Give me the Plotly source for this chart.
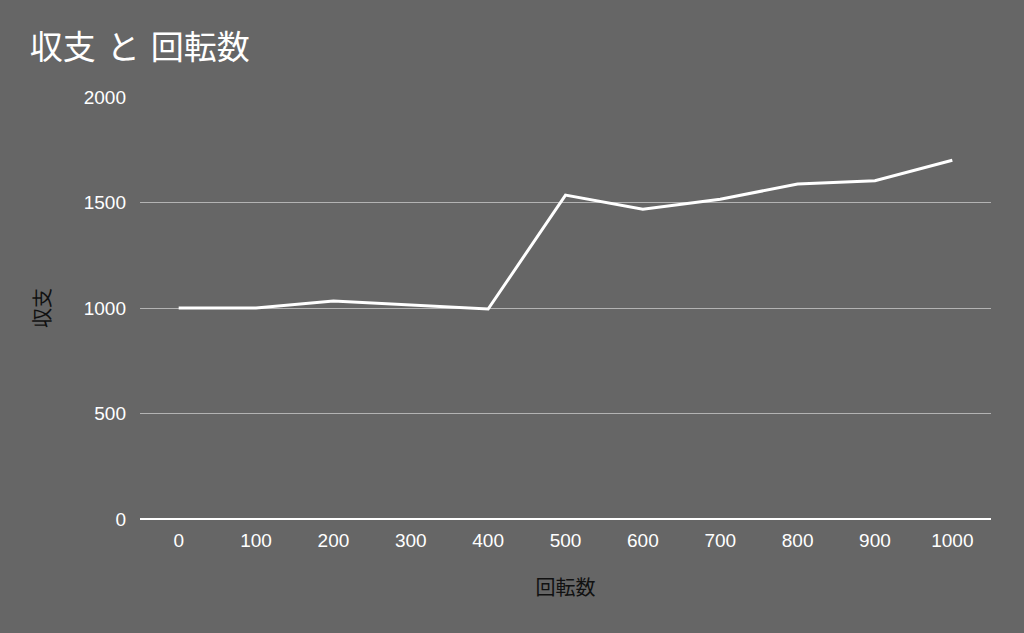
import plotly.graph_objects as go

rotations = ["0", "100", "200", "300", "400", "500", "600", "700", "800", "900", "1000"]
balance = [1000, 1000, 1033, 1015, 995, 1535, 1468, 1515, 1588, 1603, 1700]
y_ticks = [0, 500, 1000, 1500, 2000]

FONT = "'Liberation Sans', Arial, 'Noto Sans CJK JP', sans-serif"
CJK = "'Noto Sans CJK JP', sans-serif"
BG = "#666666"

fig = go.Figure()
fig.add_trace(go.Scatter(
    x=rotations, y=balance, mode="lines",
    line=dict(color="#ffffff", width=3),
    hoverinfo="skip", showlegend=False,
))

fig.update_layout(
    width=1024, height=633,
    paper_bgcolor=BG, plot_bgcolor=BG,
    margin=dict(l=140, r=33, t=97, b=114),
    font=dict(family=FONT, color="#ffffff", size=19),
    title=dict(text="収支\u2004と\u2004回転数", x=0.029, xanchor="left", y=0.925, yanchor="middle",
               font=dict(size=33, color="#ffffff", family=CJK)),
)
fig.update_xaxes(
    type="category", range=[-0.5, 10.5], showgrid=False, showline=False, zeroline=False,
    ticks="", ticklabelstandoff=8, tickfont=dict(size=19, color="#ffffff", family=FONT),
    title=dict(text="回転数", font=dict(size=20, color="#111111", family=CJK), standoff=30),
)
fig.update_yaxes(
    range=[0, 2000], tickvals=y_ticks, ticktext=[str(v) for v in y_ticks],
    showgrid=True, gridcolor="#b3b3b3", gridwidth=1,
    zeroline=True, zerolinecolor="#ffffff", zerolinewidth=2,
    ticks="", ticklabelstandoff=13, tickfont=dict(size=19, color="#ffffff", family=FONT),
    title=dict(text="収支", font=dict(size=20, color="#111111", family=CJK), standoff=27),
)

fig.write_html("out.html", config={"displayModeBar": False},
               post_script="document.body.style.margin='0';")
